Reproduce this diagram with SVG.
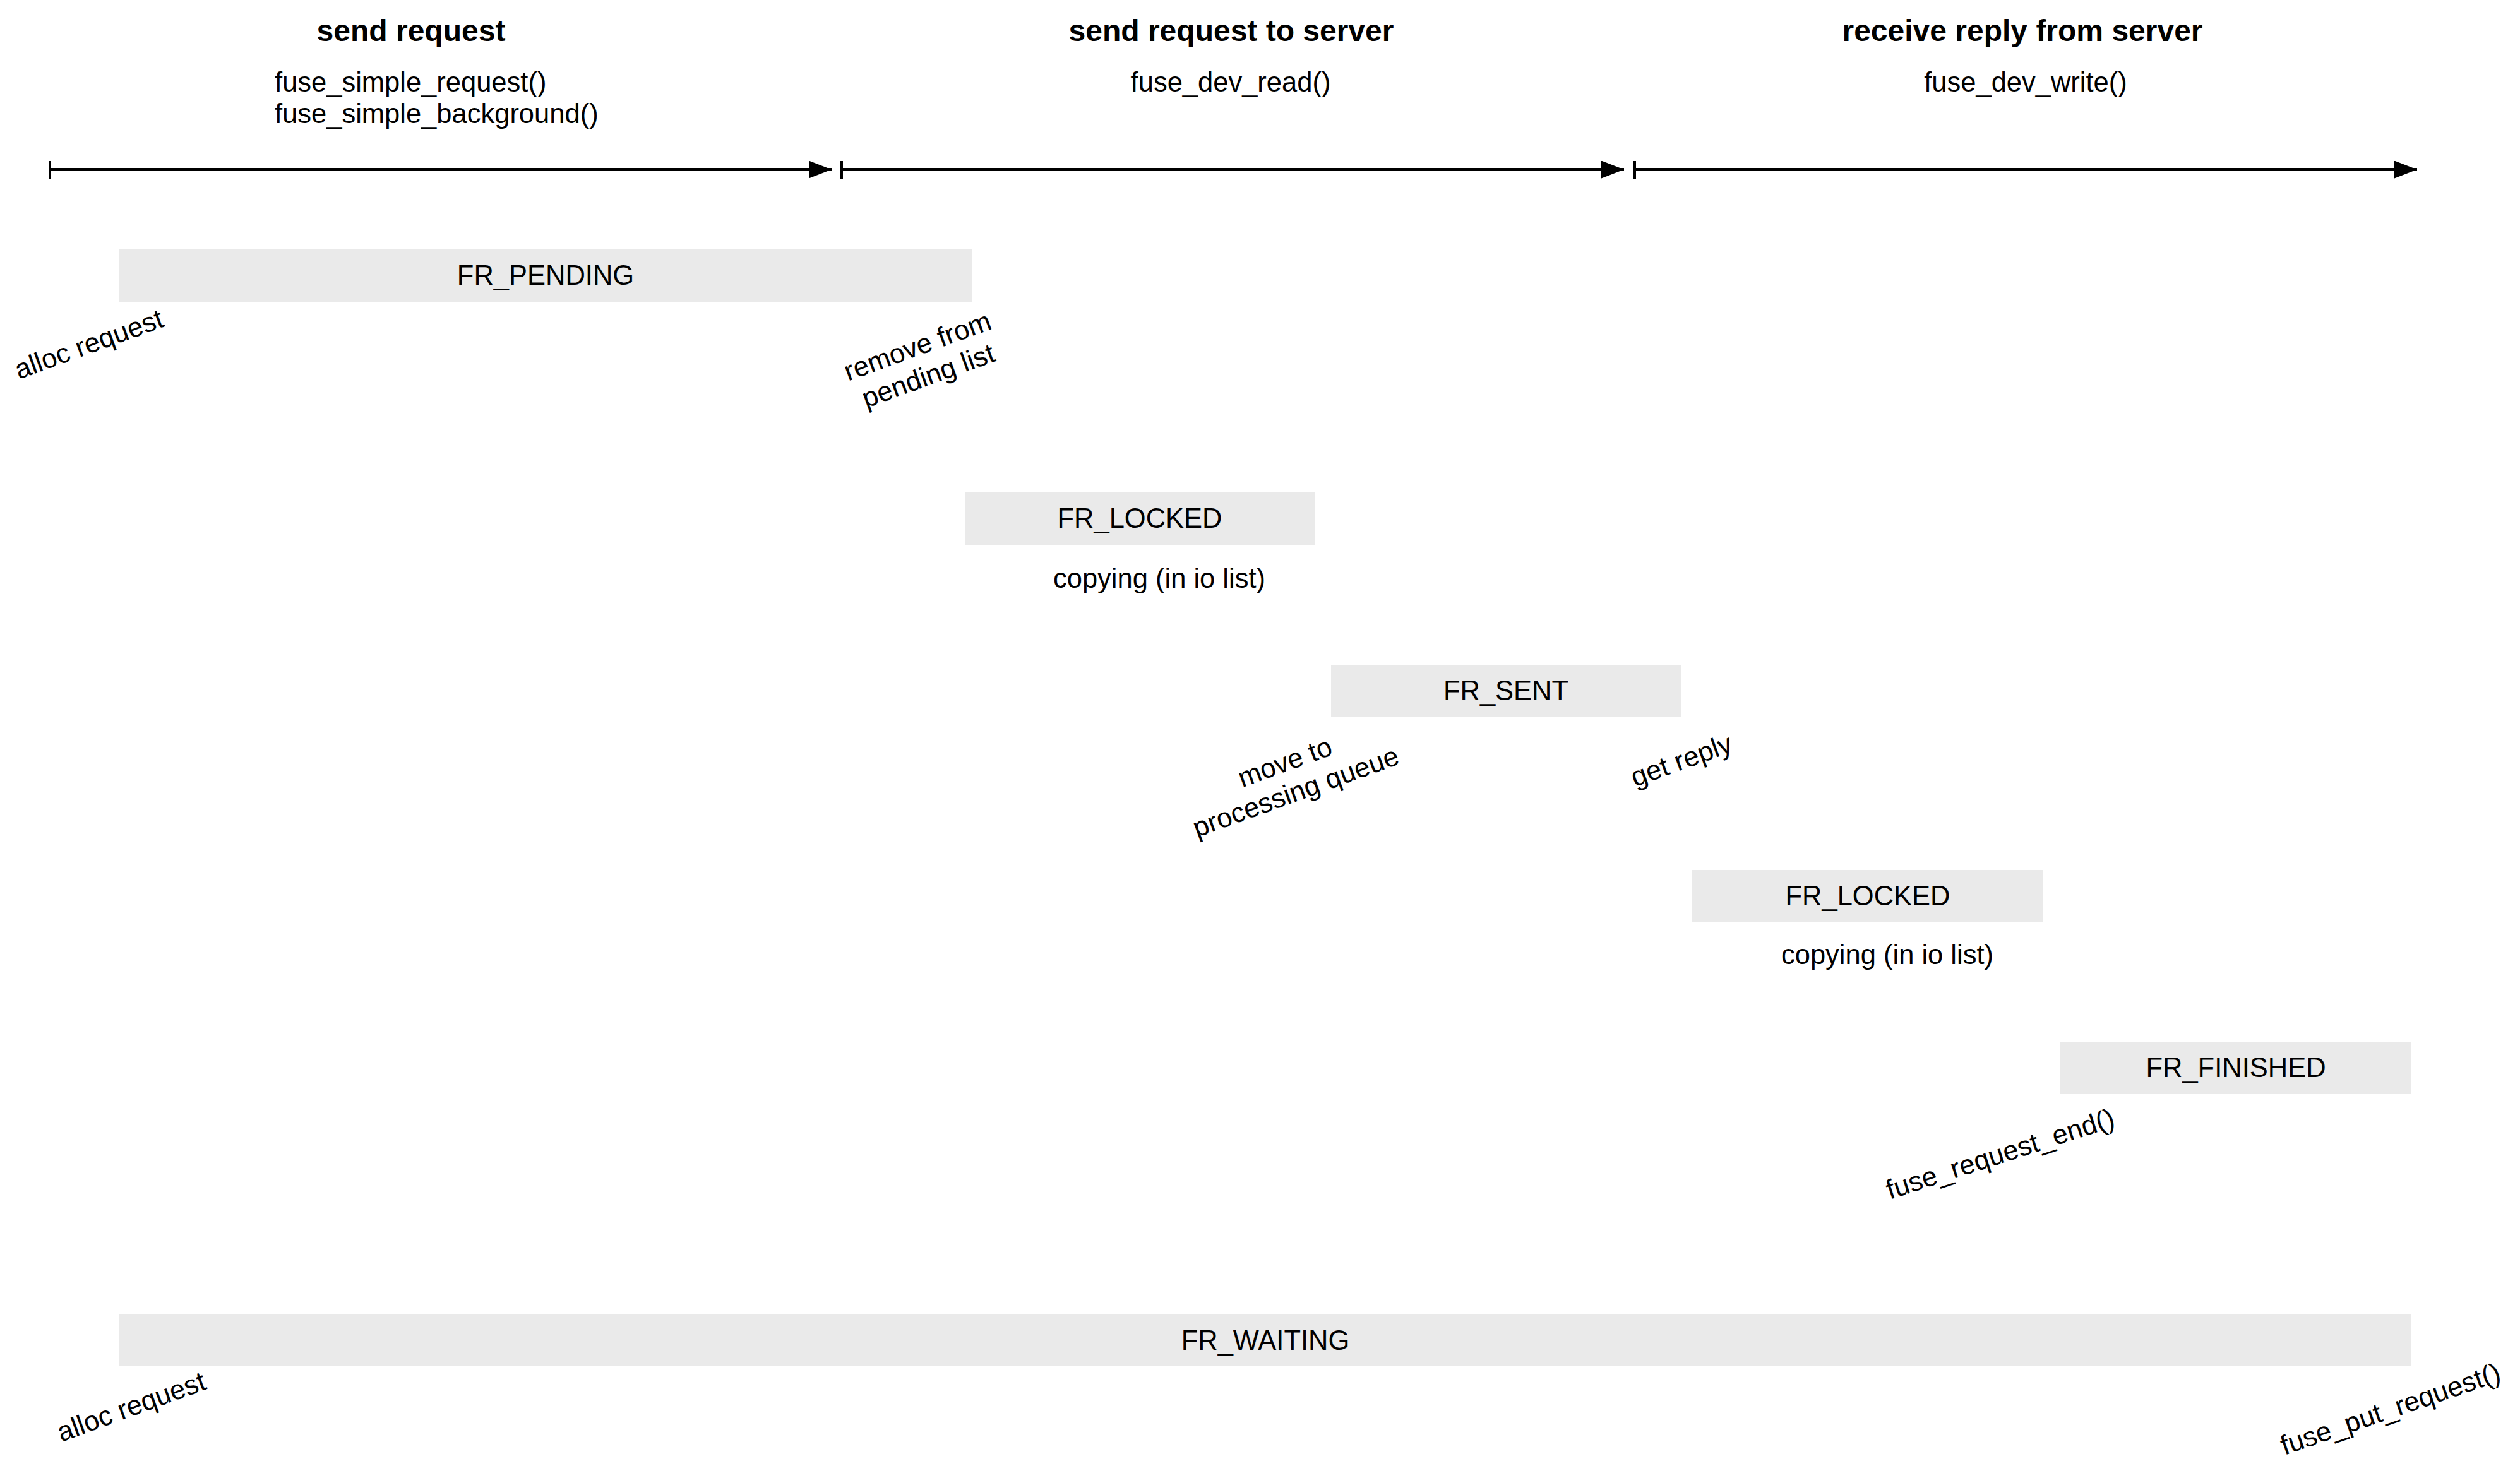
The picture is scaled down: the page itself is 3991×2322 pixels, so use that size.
<svg xmlns="http://www.w3.org/2000/svg" width="3991" height="2322" viewBox="0 0 3991 2322">
<style>
text{font-family:"Liberation Sans",Arial,Helvetica,sans-serif;fill:#000}
.h{font-size:48px;font-weight:bold;text-anchor:middle}
.t{font-size:43.5px}
.c{text-anchor:middle}
.box{fill:#EAEAEA}
.axis{stroke:#000;stroke-width:5;fill:none}
.tick{stroke:#000;stroke-width:4}
</style>
<defs>
<marker id="ah" markerUnits="userSpaceOnUse" markerWidth="36" markerHeight="28" refX="36" refY="14" orient="auto">
<path d="M0,0 L36,14 L0,28 Z" fill="#000"/>
</marker>
</defs>
<rect width="3991" height="2322" fill="#fff"/>

<g id="headings">
<text class="h" x="651" y="65">send request</text>
<text class="t" x="435" y="145">fuse_simple_request()</text>
<text class="t" x="435" y="195">fuse_simple_background()</text>
<text class="h" x="1950" y="65">send request to server</text>
<text class="t c" x="1949" y="145">fuse_dev_read()</text>
<text class="h" x="3203" y="65">receive reply from server</text>
<text class="t c" x="3208" y="145">fuse_dev_write()</text>
</g>

<g id="connectors">
<line class="tick" x1="79" y1="255" x2="79" y2="283"/>
<line class="axis" x1="79" y1="268.5" x2="1317" y2="268.5" marker-end="url(#ah)"/>
<line class="tick" x1="1333" y1="255" x2="1333" y2="283"/>
<line class="axis" x1="1333" y1="268.5" x2="2572" y2="268.5" marker-end="url(#ah)"/>
<line class="tick" x1="2589" y1="255" x2="2589" y2="283"/>
<line class="axis" x1="2589" y1="268.5" x2="3828" y2="268.5" marker-end="url(#ah)"/>
</g>

<g id="fr-pending">
<rect class="box" x="189" y="394" width="1351" height="84"/>
<text class="t c" x="864" y="451">FR_PENDING</text>
<text class="t" transform="translate(30,601) rotate(-20)">alloc request</text>
<text class="t c" transform="translate(1458,562) rotate(-20)"><tspan x="0" y="0">remove from</tspan><tspan x="0" y="50">pending list</tspan></text>
</g>

<g id="fr-locked-1">
<rect class="box" x="1528" y="780" width="555" height="83"/>
<text class="t c" x="1805" y="836">FR_LOCKED</text>
<text class="t c" x="1836" y="931">copying (in io list)</text>
</g>

<g id="fr-sent">
<rect class="box" x="2108" y="1053" width="555" height="83"/>
<text class="t c" x="2385" y="1109">FR_SENT</text>
<text class="t c" transform="translate(2040,1221) rotate(-20)"><tspan x="0" y="0">move to</tspan><tspan x="0" y="50">processing queue</tspan></text>
<text class="t c" transform="translate(2668,1218) rotate(-20)">get reply</text>
</g>

<g id="fr-locked-2">
<rect class="box" x="2680" y="1378" width="556" height="83"/>
<text class="t c" x="2958" y="1434">FR_LOCKED</text>
<text class="t c" x="2989" y="1527">copying (in io list)</text>
</g>

<g id="fr-finished">
<rect class="box" x="3263" y="1650" width="556" height="82"/>
<text class="t c" x="3541" y="1706">FR_FINISHED</text>
<text class="t" transform="translate(2993,1900) rotate(-18)">fuse_request_end()</text>
</g>

<g id="fr-waiting">
<rect class="box" x="189" y="2082" width="3630" height="82"/>
<text class="t c" x="2004" y="2138">FR_WAITING</text>
<text class="t" transform="translate(97,2284) rotate(-20)">alloc request</text>
<text class="t" transform="translate(3618,2305) rotate(-19)">fuse_put_request()</text>
</g>
</svg>
